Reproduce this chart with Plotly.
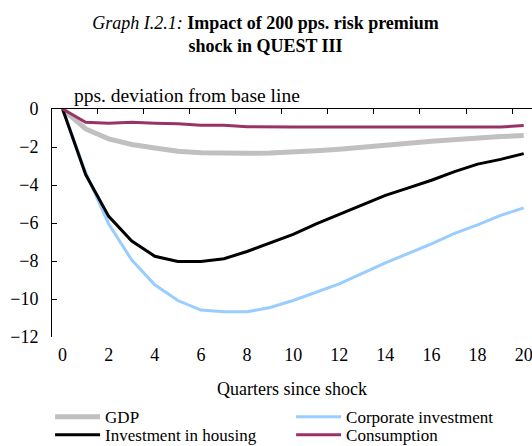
import plotly.graph_objects as go

quarters = list(range(0, 21))
gdp = [0, -1.05, -1.57, -1.87, -2.05, -2.22, -2.3, -2.33, -2.33, -2.32, -2.28,
       -2.2, -2.12, -2.03, -1.95, -1.8, -1.7, -1.6, -1.5, -1.45, -1.4]
corporate = [0, -3.35, -6.05, -7.95, -9.25, -10.08, -10.58, -10.67, -10.67, -10.45, -10.08,
             -9.65, -9.2, -8.65, -8.1, -7.6, -7.1, -6.55, -6.1, -5.6, -5.2]
housing = [0, -3.45, -5.65, -6.95, -7.75, -8.02, -8.02, -7.88, -7.5, -7.05, -6.6,
           -6.05, -5.55, -5.05, -4.55, -4.15, -3.75, -3.3, -2.9, -2.65, -2.35]
consumption = [0, -0.7, -0.75, -0.7, -0.75, -0.78, -0.85, -0.85, -0.93, -0.95, -0.95,
               -0.95, -0.95, -0.95, -0.95, -0.95, -0.95, -0.95, -0.95, -0.95, -0.87]

x_tick_vals = list(range(0, 21, 2))
x_minor_ticks = [1.5 + 2 * i for i in range(10)]
y_tick_vals = list(range(0, -13, -2))

FONT = "Liberation Serif"

fig = go.Figure()
fig.add_trace(go.Scatter(x=quarters, y=gdp, name="GDP", mode="lines", legend="legend",
                         line=dict(color="#C0C0C0", width=5)))
fig.add_trace(go.Scatter(x=quarters, y=corporate, name="Corporate investment", mode="lines",
                         legend="legend", line=dict(color="#99CCFF", width=3)))
fig.add_trace(go.Scatter(x=quarters, y=housing, name="Investment in housing", mode="lines",
                         legend="legend2", line=dict(color="#000000", width=3)))
fig.add_trace(go.Scatter(x=quarters, y=consumption, name="Consumption", mode="lines",
                         legend="legend2", line=dict(color="#993366", width=3)))
# invisible trace for top axis
fig.add_trace(go.Scatter(x=[quarters[0]], y=[gdp[0]], xaxis="x2", mode="lines",
                         showlegend=False, hoverinfo="skip", line=dict(width=0)))

legend_common = dict(orientation="h", x=-0.004, xanchor="left", yanchor="top",
                     entrywidth=181, entrywidthmode="pixels", itemwidth=45,
                     font=dict(family=FONT, size=17), bgcolor="rgba(0,0,0,0)")

xr = [-0.46, 20.36]
fig.update_layout(
    width=532, height=446,
    margin=dict(l=52, r=0, t=109, b=108.5, autoexpand=False),
    paper_bgcolor="white", plot_bgcolor="white",
    font=dict(family=FONT, size=18, color="black"),
    title=dict(
        text="<i>Graph I.2.1:</i> <b>Impact of 200 pps. risk premium</b><br><b>shock in QUEST III</b>",
        x=265.5 / 532, xref="container", xanchor="center", y=0.936, yanchor="top",
        font=dict(family=FONT, size=18, color="black")),
    xaxis=dict(range=xr, tickvals=x_tick_vals, showline=False, showgrid=False,
               zeroline=False, ticks="", tickfont=dict(size=18), ticklabelstandoff=5,
               ticklabeloverflow="allow",
               title=dict(text="Quarters since shock", font=dict(size=18), standoff=18)),
    xaxis2=dict(range=xr, overlaying="x", side="top", anchor="y", showline=True,
                linecolor="black", linewidth=1, tickvals=x_minor_ticks, ticks="inside",
                ticklen=5, tickcolor="black", showticklabels=False, showgrid=False,
                zeroline=False),
    yaxis=dict(range=[-12, 0], tickvals=y_tick_vals, showline=True, linecolor="black",
               linewidth=1, ticks="inside", ticklen=5, tickcolor="black", showgrid=False,
               zeroline=False, tickfont=dict(size=18), ticklabelstandoff=9),
    legend=dict(legend_common, y=-0.273),
    legend2=dict(legend_common, y=-0.352),
    showlegend=True,
)
fig.add_annotation(text="pps. deviation from base line", xref="paper", yref="paper",
                   x=0.0417, y=1.005, xanchor="left", yanchor="bottom", showarrow=False,
                   font=dict(family=FONT, size=19.5))

# remove the browser's default 8px body margin so the figure fills the window
fig.write_html("out.html", config={"displayModeBar": False},
               post_script="document.body.style.margin='0';")
